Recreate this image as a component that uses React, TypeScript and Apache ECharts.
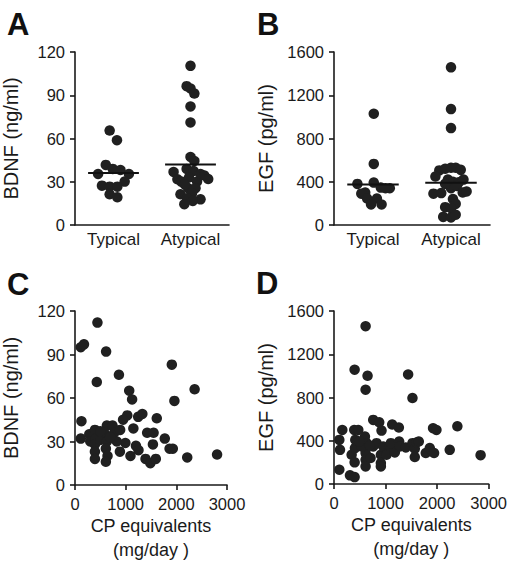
import React, { useEffect, useRef } from "react";
import * as echarts from "echarts";

// ---- Data ----
const groupLabels = ["Typical", "Atypical"];
const groupCenters = [1, 3];

// Panel A: BDNF (ng/ml) by group, [swarm position, value]
const bdnfTypical: number[][] = [
  [0.9, 65.5], [1.09, 58.8], [0.8, 41.7], [0.98, 38.9], [1.18, 38.2], [0.6, 35.4],
  [1.4, 35.4], [1.29, 30.1], [0.7, 27.3], [0.9, 26.6], [1.1, 26.6], [0.9, 21.3], [1.1, 19.2],
];
const bdnfAtypical: number[][] = [
  [3.0, 110.4], [2.9, 96.3], [3.0, 94.7], [3.1, 91.2], [3.0, 82.2], [3.0, 71.1], [3.0, 47.2],
  [3.1, 44.4], [2.56, 36.8], [2.9, 38.9], [3.08, 37.5], [2.66, 31.7], [2.76, 30.1], [2.96, 32.9],
  [3.17, 30.1], [3.26, 35.4], [3.36, 34.3], [3.46, 31.9], [2.74, 21.3], [2.94, 25.5], [3.13, 25.5],
  [3.04, 22.0], [2.91, 18.5], [3.26, 17.8], [3.06, 16.7], [2.84, 14.4], [2.85, 28.2],
];
const bdnfMeans = [36, 42];

// Panel B: EGF (pg/ml) by group
const egfTypical: number[][] = [
  [1.02, 1029], [1.02, 565], [0.6, 380], [1.02, 392], [1.2, 346], [1.43, 340], [1.32, 340],
  [0.8, 300], [0.7, 290], [0.85, 245], [1.1, 245], [0.95, 190], [1.22, 190],
];
const egfAtypical: number[][] = [
  [3.0, 1458], [3.0, 1072], [3.0, 896],
  [2.7, 505], [2.85, 520], [3.0, 530], [3.12, 530], [3.25, 510],
  [2.6, 448], [2.92, 420], [3.05, 400], [3.32, 420], [3.2, 395],
  [2.55, 290], [2.75, 295], [3.0, 340], [3.15, 360], [3.3, 300], [3.4, 310], [2.85, 380],
  [3.05, 240], [3.12, 195], [2.85, 165], [3.0, 155],
  [2.8, 75], [3.0, 70], [3.12, 95],
];
const egfMeans = [375, 390];

// Panel C: CP equivalents (mg/day) vs BDNF
const cpBdnf: number[][] = [
  [443, 112], [114, 95], [177, 97], [614, 92], [867, 76], [430, 71], [1911, 83], [2361, 66],
  [1070, 65], [1127, 59], [1962, 58], [127, 44], [114, 32], [1247, 47], [1329, 49], [1032, 48],
  [949, 45], [1614, 46], [1152, 39], [1424, 36], [1551, 36], [1772, 32], [1538, 28], [1203, 27],
  [1253, 24], [1095, 20], [886, 23], [994, 29], [1392, 18], [1487, 15], [1595, 18], [1867, 25],
  [1930, 25], [2215, 19], [2804, 21],
  [282, 35], [301, 30], [393, 38], [413, 32], [393, 28], [393, 23], [393, 18], [498, 31],
  [576, 36], [629, 41], [629, 30], [609, 25], [642, 20], [609, 16], [740, 41], [773, 36],
  [825, 30], [891, 38], [694, 33], [498, 37],
];

// Panel D: CP equivalents (mg/day) vs EGF
const cpEgf: number[][] = [
  [613, 1459], [400, 1057], [651, 1001], [613, 872], [1438, 1013], [1522, 795], [161, 500],
  [393, 500], [471, 500], [761, 593], [877, 571], [1129, 550], [1258, 522], [922, 494],
  [1922, 516], [1987, 500], [2393, 534], [103, 408], [116, 316], [103, 132], [310, 80],
  [400, 64], [342, 270], [400, 200], [406, 332], [413, 408], [600, 439], [632, 378],
  [613, 286], [613, 224], [613, 163], [709, 240], [761, 347], [826, 378], [909, 270],
  [909, 194], [909, 163], [954, 347], [1019, 270], [1084, 347], [1180, 292], [1103, 378],
  [1264, 393], [1277, 347], [1393, 338], [1522, 378], [1567, 326], [1600, 384], [1645, 393],
  [1567, 249], [1780, 286], [1858, 332], [1941, 286], [2245, 316], [2844, 267], [535, 347],
  [490, 393], [696, 356],
];

// ---- Styles ----
const FONT = "'Liberation Sans', Arial, Helvetica, sans-serif";
const INK = "#1a1a1a";
const DOT = "#202020";
const MEAN_HALF = 0.66;

const axisLine = { show: true, lineStyle: { color: INK, width: 1.6 } };
const axisTick = { show: true, length: 5, lineStyle: { color: INK, width: 1.6 } };
const plain = (v: number) => String(v);
const tickLabel = { color: INK, fontSize: 16.5, fontFamily: FONT, formatter: plain };

function groupXAxis(gridIndex: number) {
  return {
    type: "value",
    gridIndex,
    min: 0,
    max: 4,
    interval: 1,
    axisLine,
    axisTick: { show: false },
    splitLine: { show: false },
    axisLabel: {
      color: INK,
      fontSize: 17,
      fontFamily: FONT,
      margin: 6,
      formatter: (v: number) => {
        const i = groupCenters.indexOf(v);
        return i >= 0 ? groupLabels[i] : "";
      },
    },
  };
}

function cpXAxis(gridIndex: number) {
  return {
    type: "value",
    gridIndex,
    min: 0,
    max: 3000,
    interval: 1000,
    axisLine,
    axisTick,
    splitLine: { show: false },
    axisLabel: { ...tickLabel, margin: 10 },
    name: "CP equivalents\n(mg/day )",
    nameLocation: "middle",
    nameGap: 29,
    nameTextStyle: { color: INK, fontSize: 18, fontFamily: FONT, lineHeight: 24 },
  };
}

function yAxis(gridIndex: number, name: string, max: number, interval: number, nameGap: number) {
  return {
    type: "value",
    gridIndex,
    min: 0,
    max,
    interval,
    axisLine,
    axisTick,
    splitLine: { show: false },
    axisLabel: { ...tickLabel, margin: 10 },
    name,
    nameLocation: "middle",
    nameGap,
    nameTextStyle: { color: INK, fontSize: 20, fontFamily: FONT },
  };
}

function scatter(data: number[][], idx: number) {
  return {
    type: "scatter",
    xAxisIndex: idx,
    yAxisIndex: idx,
    data,
    symbolSize: 10.5,
    itemStyle: { color: DOT, opacity: 1 },
    silent: true,
  };
}

function meanLine(center: number, mean: number, idx: number) {
  return {
    type: "line",
    xAxisIndex: idx,
    yAxisIndex: idx,
    data: [
      [center - MEAN_HALF, mean],
      [center + MEAN_HALF, mean],
    ],
    symbol: "none",
    lineStyle: { color: "#111", width: 2 },
    z: 3,
    silent: true,
  };
}

function panelLetter(text: string, left: number, top: number) {
  return {
    type: "text",
    left,
    top,
    style: { text, fontSize: 31, fontWeight: "bold", fontFamily: FONT, fill: "#111" },
  };
}

export default function App() {
  const ref = useRef<HTMLDivElement>(null);

  useEffect(() => {
    document.body.style.margin = "0";
    if (!ref.current) return;
    const chart = echarts.init(ref.current, undefined, { renderer: "svg" });
    chart.setOption({
      animation: false,
      backgroundColor: "#ffffff",
      grid: [
        { left: 74, top: 52, width: 155, height: 173 },
        { left: 334, top: 52, width: 156, height: 173 },
        { left: 74, top: 311, width: 153, height: 174 },
        { left: 334, top: 311, width: 155, height: 173 },
      ],
      xAxis: [groupXAxis(0), groupXAxis(1), cpXAxis(2), cpXAxis(3)],
      yAxis: [
        yAxis(0, "BDNF (ng/ml)", 120, 30, 54),
        yAxis(1, "EGF (pg/ml)", 1600, 400, 58),
        yAxis(2, "BDNF (ng/ml)", 120, 30, 54),
        yAxis(3, "EGF (pg/ml)", 1600, 400, 58),
      ],
      series: [
        scatter(bdnfTypical, 0),
        scatter(bdnfAtypical, 0),
        meanLine(groupCenters[0], bdnfMeans[0], 0),
        meanLine(groupCenters[1], bdnfMeans[1], 0),
        scatter(egfTypical, 1),
        scatter(egfAtypical, 1),
        meanLine(groupCenters[0], egfMeans[0], 1),
        meanLine(groupCenters[1], egfMeans[1], 1),
        scatter(cpBdnf, 2),
        scatter(cpEgf, 3),
      ],
      graphic: [
        panelLetter("A", 7, 9),
        panelLetter("B", 257, 9),
        panelLetter("C", 7, 269),
        panelLetter("D", 256, 268),
      ],
    });
    return () => chart.dispose();
  }, []);

  return <div ref={ref} style={{ width: 510, height: 563 }} />;
}
